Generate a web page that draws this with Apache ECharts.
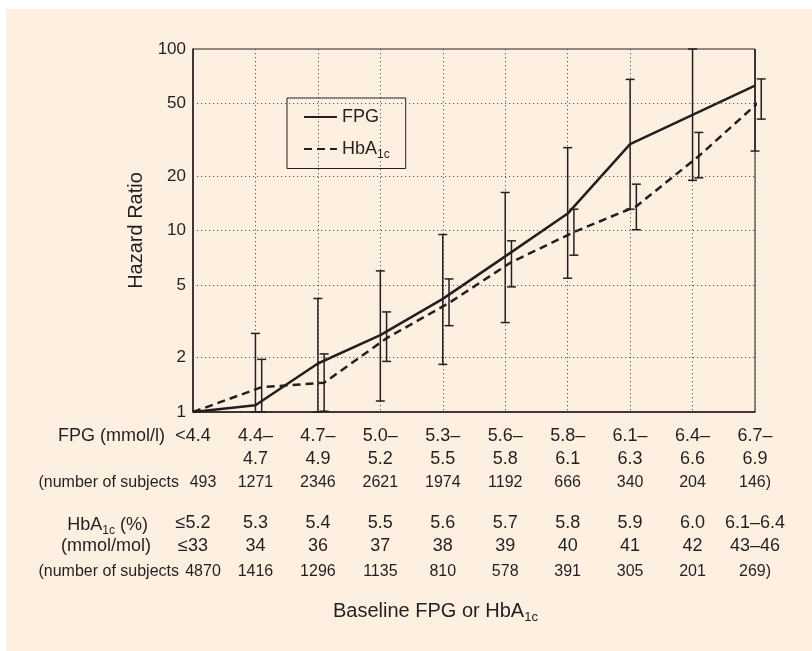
<!DOCTYPE html>
<html>
<head>
<meta charset="utf-8">
<script src="https://cdn.jsdelivr.net/npm/echarts@6/dist/echarts.min.js"></script>
<style>
  html, body { margin: 0; padding: 0; background: #ffffff; }
  #chart { width: 812px; height: 651px; }
</style>
</head>
<body>
<div id="chart"></div>
<script>
// hazard ratios and 95% CI
var fpgHR = [1.0, 1.09, 1.85, 2.65, 4.2, 7.2, 12.4, 29.9, 43.3, 62.8];
var fpgLo = [null, 1.0, 1.0, 1.15, 1.83, 3.11, 5.46, 13.1, 18.9, 27.4];
var fpgHi = [null, 2.71, 4.22, 5.99, 9.5, 16.2, 28.6, 68, 100, 130];

var hbaHR = [1.0, 1.37, 1.45, 2.55, 3.99, 6.7, 9.8, 13.6, 25.7, 52.4];
var hbaLo = [null, 1.0, 1.01, 1.9, 2.99, 4.89, 7.31, 10.1, 19.5, 41.1];
var hbaHi = [null, 1.95, 2.09, 3.56, 5.41, 8.77, 13.1, 18.0, 34.7, 68.4];

var yTicks = [1, 2, 5, 10, 20, 50, 100];

// label rows under the x axis
var fpgRange = ['<4.4', '4.4–\n4.7', '4.7–\n4.9', '5.0–\n5.2', '5.3–\n5.5', '5.6–\n5.8', '5.8–\n6.1', '6.1–\n6.3', '6.4–\n6.6', '6.7–\n6.9'];
var fpgN = ['493', '1271', '2346', '2621', '1974', '1192', '666', '340', '204', '146)'];
var hbaPct = ['≤5.2', '5.3', '5.4', '5.5', '5.6', '5.7', '5.8', '5.9', '6.0', '6.1–6.4'];
var hbaMmol = ['≤33', '34', '36', '37', '38', '39', '40', '41', '42', '43–46'];
var hbaN = ['4870', '1416', '1296', '1135', '810', '578', '391', '305', '201', '269)'];

var ink = '#231f20';
var font = 'Liberation Sans, Arial, sans-serif';
var hbaShift = 0.1; // HbA1c marks sit a little right of the FPG marks

var chart = echarts.init(document.getElementById('chart'));

var fpgLine = fpgHR.map(function (v, i) { return [i, v]; });
var hbaLine = hbaHR.map(function (v, i) { return [i === 0 ? 0 : i + hbaShift, v]; });
var fpgErr = [], hbaErr = [];
for (var i = 0; i < fpgLo.length; i++) {
    if (fpgLo[i] != null) fpgErr.push([i, fpgLo[i], fpgHi[i]]);
    if (hbaLo[i] != null) hbaErr.push([i + hbaShift, hbaLo[i], hbaHi[i]]);
}

function errBar(params, api) {
    var lo = api.coord([api.value(0), api.value(1)]);
    var hi = api.coord([api.value(0), api.value(2)]);
    var top = params.coordSys.y;
    var clipped = hi[1] < top - 0.5;
    if (clipped) hi[1] = top;
    var w = 4.5;
    var st = { stroke: ink, lineWidth: 1.5 };
    var parts = [
        { type: 'line', shape: { x1: lo[0], y1: lo[1], x2: hi[0], y2: hi[1] }, style: st },
        { type: 'line', shape: { x1: lo[0] - w, y1: lo[1], x2: lo[0] + w, y2: lo[1] }, style: st }
    ];
    if (!clipped) {
        parts.push({ type: 'line', shape: { x1: hi[0] - w, y1: hi[1], x2: hi[0] + w, y2: hi[1] }, style: st });
    }
    return { type: 'group', children: parts };
}

// first column of the count rows is nudged right
function shiftFirst(arr) {
    return arr.map(function (v, i) {
        return i === 0 ? { value: v, textStyle: { padding: [0, 0, 0, 20] } } : v;
    });
}

function rowAxis(data, offset, size, lh) {
    return {
        type: 'category', gridIndex: 0, position: 'bottom', offset: offset,
        boundaryGap: false, data: data,
        axisLine: { show: false }, axisTick: { show: false }, splitLine: { show: false },
        axisLabel: { interval: 0, margin: 0, hideOverlap: false, fontSize: size, lineHeight: lh, color: ink, fontFamily: font }
    };
}

var subRich = {
    a: { fontSize: 18, color: ink, fontFamily: font },
    s: { fontSize: 12, color: ink, fontFamily: font, padding: [11, 0, 0, 0] }
};

var option = {
    backgroundColor: '#fdf0e1',
    animation: false,
    grid: { left: 193, right: 57, top: 49, bottom: 239, show: true, borderColor: ink, borderWidth: 1 },
    legend: {
        left: 287, top: 98, orient: 'vertical',
        padding: [10, 16, 8, 16], itemGap: 14, itemWidth: 33, itemHeight: 14,
        borderColor: ink, borderWidth: 1,
        itemStyle: { opacity: 0 },
        formatter: function (name) {
            return name === 'HbA1c' ? '{a|HbA}{s|1c}' : '{a|' + name + '}';
        },
        textStyle: { color: ink, fontSize: 18, fontFamily: font, rich: subRich }
    },
    xAxis: [
        {
            type: 'value', min: 0, max: 9, interval: 1,
            axisLine: { lineStyle: { color: ink, width: 1.5 } },
            axisTick: { show: false }, axisLabel: { show: false },
            splitLine: { lineStyle: { type: [1.2, 2.8], color: '#555', width: 1 } }
        },
        rowAxis(fpgRange, 12.5, 18, 23),
        rowAxis(shiftFirst(fpgN), 62, 16, 18),
        rowAxis(hbaPct.map(function (v, i) { return v + '\n' + hbaMmol[i]; }), 99.5, 18, 23),
        rowAxis(shiftFirst(hbaN), 151, 16, 18)
    ],
    yAxis: {
        type: 'log', logBase: 10, min: 1, max: 100,
        name: 'Hazard Ratio', nameLocation: 'middle', nameGap: 47,
        nameTextStyle: { fontSize: 20, color: ink, fontFamily: font },
        axisLine: { show: true, lineStyle: { color: ink, width: 1.5 } },
        axisTick: { show: false }, axisLabel: { show: false }, splitLine: { show: false }
    },
    graphic: [
        { type: 'rect', shape: { x: 0, y: 0, width: 812, height: 9 }, style: { fill: '#fff' }, silent: true },
        { type: 'rect', shape: { x: 0, y: 0, width: 6, height: 651 }, style: { fill: '#fff' }, silent: true },
        { type: 'text', style: { text: 'FPG (mmol/l)', x: 165, y: 436, align: 'right', verticalAlign: 'middle', fontSize: 18, fontFamily: font, fill: ink } },
        { type: 'text', style: { text: '(number of subjects', x: 179, y: 483, align: 'right', verticalAlign: 'middle', fontSize: 16, fontFamily: font, fill: ink } },
        { type: 'text', style: { text: '{a|HbA}{s|1c}{a| (%)}', x: 148, y: 525, align: 'right', verticalAlign: 'middle', fill: ink, rich: subRich } },
        { type: 'text', style: { text: '(mmol/mol)', x: 151, y: 546, align: 'right', verticalAlign: 'middle', fontSize: 18, fontFamily: font, fill: ink } },
        { type: 'text', style: { text: '(number of subjects', x: 179, y: 572, align: 'right', verticalAlign: 'middle', fontSize: 16, fontFamily: font, fill: ink } },
        { type: 'text', style: { text: '{a|Baseline FPG or HbA}{s|1c}', x: 333, y: 611, align: 'left', verticalAlign: 'middle', fill: ink,
            rich: { a: { fontSize: 20, color: ink, fontFamily: font }, s: { fontSize: 13, color: ink, fontFamily: font, padding: [12, 0, 0, 0] } } } }
    ],
    series: [
        {
            name: 'FPG', type: 'line', data: fpgLine, symbol: 'none',
            lineStyle: { color: ink, width: 2.5 }, itemStyle: { color: ink },
            markLine: {
                silent: true, symbol: 'none', animation: false,
                lineStyle: { type: [1.2, 2.8], color: '#555', width: 1 },
                label: { position: 'start', distance: 7, formatter: '{c}', fontSize: 17, color: ink, fontFamily: font },
                data: yTicks.map(function (v) {
                    return (v === 1 || v === 100)
                        ? { yAxis: v, lineStyle: { color: 'rgba(0,0,0,0)' } }
                        : { yAxis: v };
                })
            }
        },
        {
            name: 'HbA1c', type: 'line', data: hbaLine, symbol: 'none', clip: false,
            lineStyle: { color: ink, width: 2.5, type: [8, 5] }, itemStyle: { color: ink }
        },
        { type: 'custom', data: fpgErr, renderItem: errBar, encode: { x: 0, y: [1, 2] }, clip: false },
        { type: 'custom', data: hbaErr, renderItem: errBar, encode: { x: 0, y: [1, 2] }, clip: false }
    ]
};
chart.setOption(option);
</script>
</body>
</html>
